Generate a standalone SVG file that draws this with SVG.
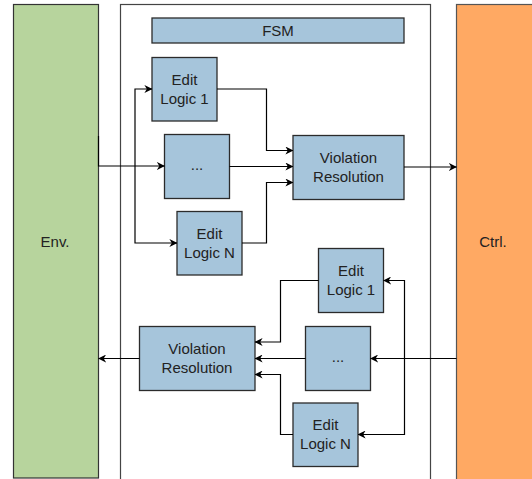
<svg xmlns="http://www.w3.org/2000/svg" width="532" height="479" viewBox="0 0 532 479">
  <style>
    .blk { fill: #A6C5DB; stroke: #2b2b2b; stroke-width: 1.3; }
    .lbl { font-family: "Liberation Sans", Arial, sans-serif; font-size: 15px; fill: #222; text-anchor: middle; }
    .edge { fill: none; stroke: #000; stroke-width: 1.2; }
    .arr { marker-end: url(#head); }
  </style>
  <defs>
    <marker id="head" viewBox="0 0 10 10" refX="9.5" refY="5" markerWidth="8" markerHeight="8" markerUnits="userSpaceOnUse" orient="auto">
      <path d="M0,0 L10,5 L0,10 L3,5 z" fill="#000"/>
    </marker>
  </defs>

  <!-- environment side -->
  <g id="env">
    <rect x="13.5" y="4.5" width="85" height="473.5" fill="#B7D49D" stroke="#333" stroke-width="1.2"/>
    <text class="lbl" x="55" y="247">Env.</text>
  </g>

  <!-- controller side -->
  <g id="ctrl">
    <rect x="456.5" y="4.5" width="90" height="490" fill="#FFA963" stroke="#555" stroke-width="1.2"/>
    <text class="lbl" x="493" y="247">Ctrl.</text>
  </g>

  <!-- FSM container -->
  <g id="fsm-frame">
    <rect x="120.5" y="4.5" width="310" height="490" fill="#fff" stroke="#444" stroke-width="1.2"/>
  </g>

  <g id="fsm-title">
    <rect class="blk" x="152" y="18" width="252" height="25"/>
    <text class="lbl" x="278" y="36">FSM</text>
  </g>

  <!-- env -> ctrl path -->
  <g id="edit-logic-1-a">
    <rect class="blk" x="152" y="57.5" width="65" height="63.5"/>
    <text class="lbl" x="184.5" y="85">Edit</text>
    <text class="lbl" x="184.5" y="104">Logic 1</text>
  </g>
  <g id="edit-logic-dots-a">
    <rect class="blk" x="164.5" y="134.5" width="65" height="64"/>
    <text class="lbl" x="197" y="170">...</text>
  </g>
  <g id="edit-logic-n-a">
    <rect class="blk" x="177" y="211.5" width="65" height="63.5"/>
    <text class="lbl" x="209.5" y="239">Edit</text>
    <text class="lbl" x="209.5" y="258">Logic N</text>
  </g>
  <g id="violation-resolution-a">
    <rect class="blk" x="293" y="135.5" width="111" height="64"/>
    <text class="lbl" x="348.5" y="163">Violation</text>
    <text class="lbl" x="348.5" y="182">Resolution</text>
  </g>

  <!-- ctrl -> env path -->
  <g id="edit-logic-1-b">
    <rect class="blk" x="318.5" y="248.5" width="65" height="64"/>
    <text class="lbl" x="351" y="276">Edit</text>
    <text class="lbl" x="351" y="295">Logic 1</text>
  </g>
  <g id="edit-logic-dots-b">
    <rect class="blk" x="305.5" y="326.5" width="65" height="64"/>
    <text class="lbl" x="338" y="362">...</text>
  </g>
  <g id="edit-logic-n-b">
    <rect class="blk" x="293" y="403" width="65" height="63.5"/>
    <text class="lbl" x="325.5" y="430">Edit</text>
    <text class="lbl" x="325.5" y="449">Logic N</text>
  </g>
  <g id="violation-resolution-b">
    <rect class="blk" x="139.5" y="326.5" width="115.5" height="64"/>
    <text class="lbl" x="197" y="354">Violation</text>
    <text class="lbl" x="197" y="373">Resolution</text>
  </g>

  <!-- connectors -->
  <g id="connectors">
    <path class="edge arr" d="M98.5,136 V166 H164.5"/>
    <path class="edge arr" d="M135,166 V89 H152"/>
    <path class="edge arr" d="M135,166 V243 H177"/>
    <path class="edge arr" d="M217,89 H266.5 V150.5 H293"/>
    <path class="edge arr" d="M229.5,166.5 H293"/>
    <path class="edge arr" d="M242,243 H266.5 V182.5 H293"/>
    <path class="edge arr" d="M404,167 H456.5"/>

    <path class="edge arr" d="M456.5,358.5 H370.5"/>
    <path class="edge arr" d="M404.5,358.5 V280.5 H383.5"/>
    <path class="edge arr" d="M404.5,358.5 V434.5 H358"/>
    <path class="edge arr" d="M318.5,280.5 H280.5 V342 H255"/>
    <path class="edge arr" d="M305.5,358.5 H255"/>
    <path class="edge arr" d="M293,434.5 H280.5 V374.5 H255"/>
    <path class="edge arr" d="M139.5,358.5 H98.5"/>
  </g>
</svg>
